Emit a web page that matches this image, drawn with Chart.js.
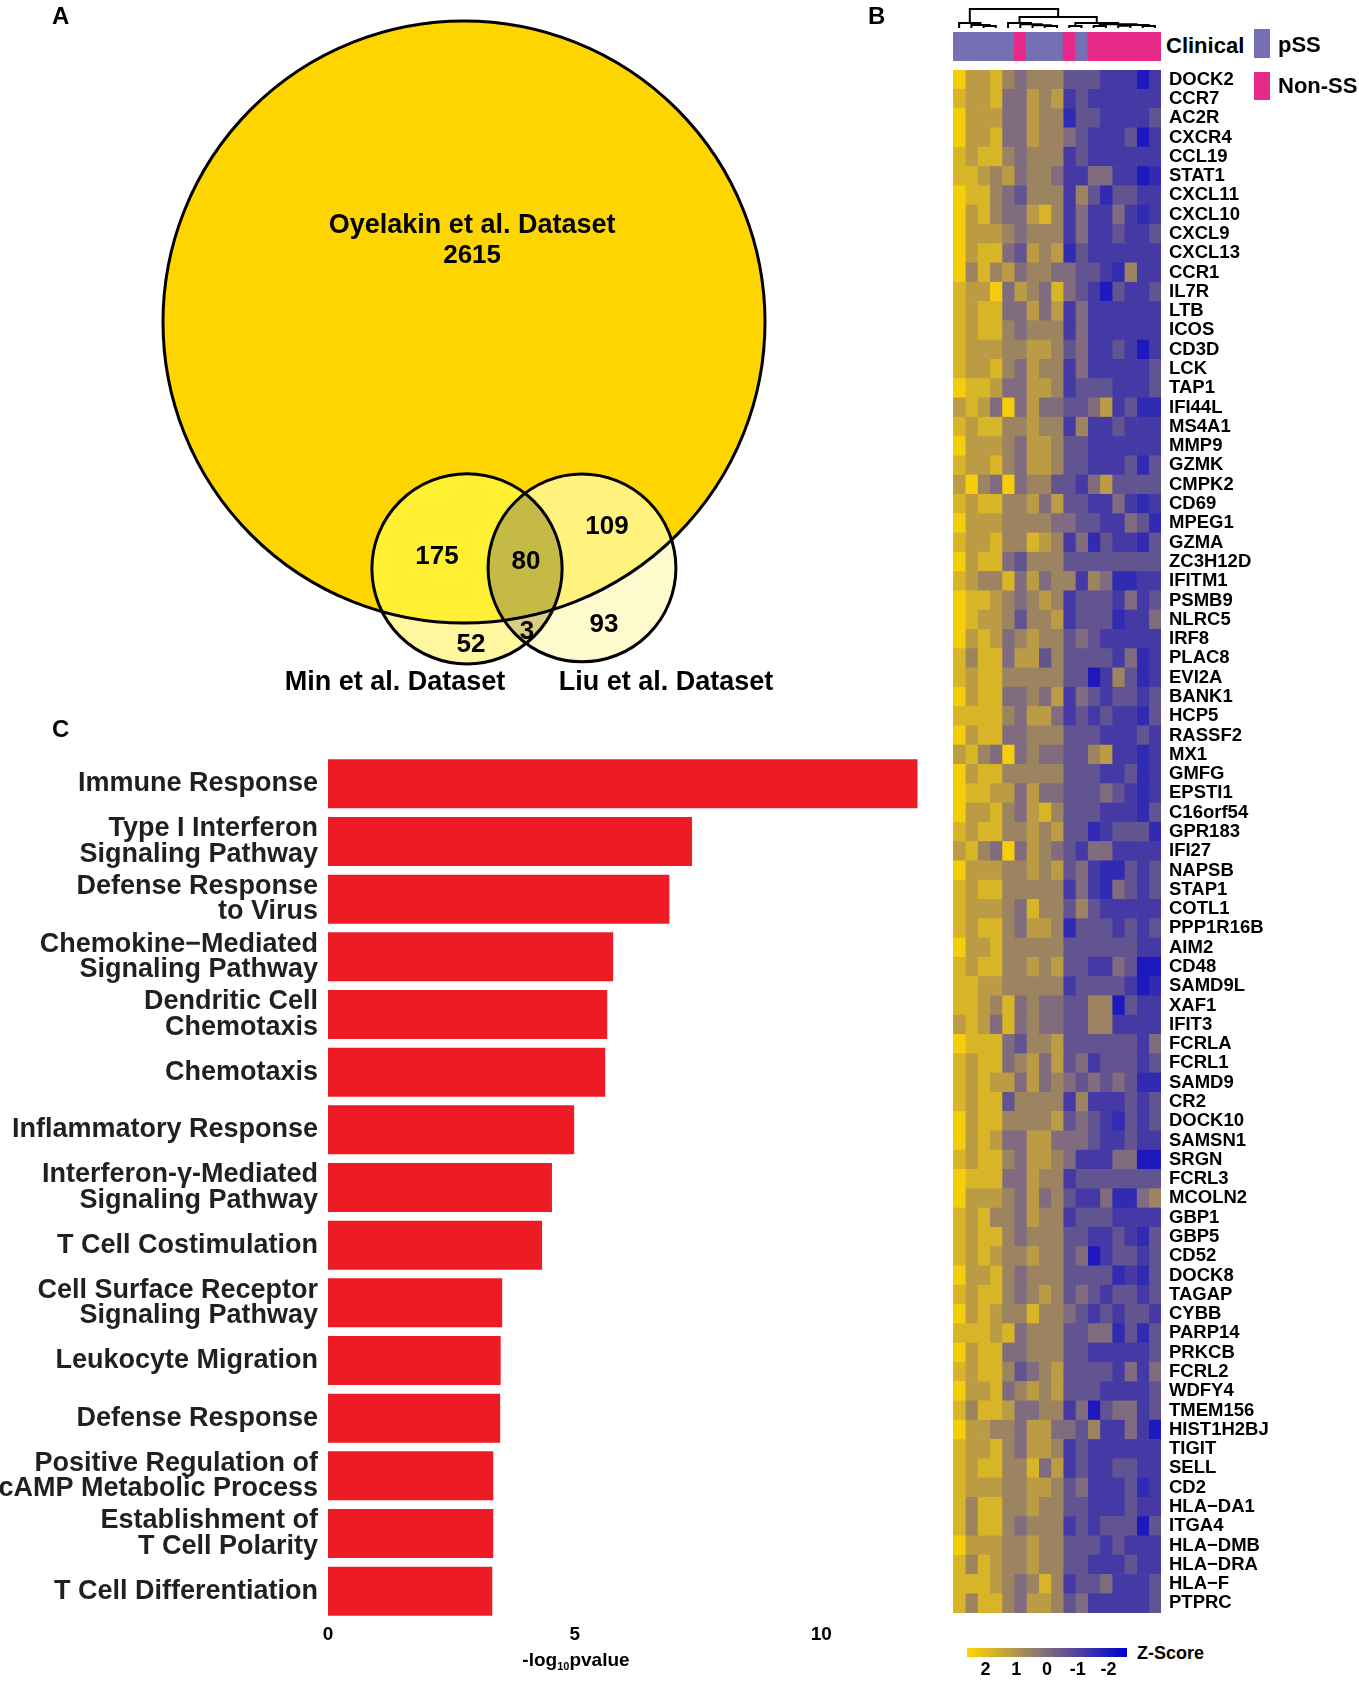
<!DOCTYPE html>
<html lang="en">
<head>
  <meta charset="UTF-8" />
  <title>Venn overlap, GO enrichment and heatmap</title>
  <script src="https://cdn.jsdelivr.net/npm/chart.js"></script>
  <style>
    body { margin: 0; width: 1359px; height: 1681px; position: relative; background: #fff;
           font-family: "Liberation Sans", Arial, sans-serif; font-weight: bold; color: #000; }
    canvas { position: absolute; }
    .lbl { position: absolute; white-space: nowrap; line-height: 1; z-index: 2; }
    .key { position: absolute; z-index: 2; }
    .lbl sub { font-size: 11px; vertical-align: -4px; line-height: 0; }
  </style>
</head>

<body>
  <canvas id="venn" width="900" height="710" style="left:0;top:0"></canvas>
  <canvas id="goBars" width="920" height="946" style="left:0;top:735px"></canvas>
  <canvas id="dendro" width="208" height="32" style="left:953px;top:0"></canvas>
  <canvas id="clinical" width="208" height="29" style="left:953px;top:32px"></canvas>
  <canvas id="heat" width="398" height="1543" style="left:953px;top:70px"></canvas>
  <canvas id="zkey" width="160" height="33" style="left:967px;top:1648px"></canvas>

  <div class="lbl" style="left:52px;top:4px;font-size:24px">A</div>
  <div class="lbl" style="left:868px;top:4px;font-size:24px">B</div>
  <div class="lbl" style="left:52px;top:717px;font-size:24px">C</div>
  <div class="lbl" style="left:1166px;top:35px;font-size:22px">Clinical</div>
  <div class="key" style="left:1254px;top:29px;width:16px;height:29px;background:#7570B3"></div>
  <div class="lbl" style="left:1278px;top:34px;font-size:22px">pSS</div>
  <div class="key" style="left:1254px;top:72px;width:16px;height:28px;background:#E7298A"></div>
  <div class="lbl" style="left:1278px;top:75px;font-size:22px">Non-SS</div>
  <div class="lbl" style="left:1137px;top:1644px;font-size:18px">Z-Score</div>
  <div class="lbl" style="left:576px;top:1650px;font-size:19px;transform:translateX(-50%)">-log<sub>10</sub>pvalue</div>

  <script>
    const FONT = '"Liberation Sans", Arial, sans-serif';
    Chart.defaults.font.family = FONT;
    Chart.defaults.font.weight = "bold";
    Chart.defaults.color = "#000";

    /* ---------- panel A: Venn ---------- */
    // circles in units of the big circle radius
    const vennTitles = ["Oyelakin et al. Dataset", "Min et al. Dataset", "Liu et al. Dataset"];
    const vennX = [0, 0.01, 0.392];
    const vennY = [0, -0.82, -0.817];
    const vennR = [1, 0.316, 0.312];
    const titleX = [0.027, -0.229, 0.671];
    const titleY = [0.322, -1.199, -1.199];
    const regionCounts = [2615, 175, 80, 109, 52, 3, 93];
    const countX = [0.027, -0.09, 0.206, 0.475, 0.023, 0.209, 0.465];
    const countY = [0.219, -0.781, -0.797, -0.681, -1.073, -1.03, -1.007];

    /* ---------- panel C: GO terms ---------- */
    const goTerms = [
      ["Immune Response"],
      ["Type I Interferon", "Signaling Pathway"],
      ["Defense Response", "to Virus"],
      ["Chemokine\u2212Mediated", "Signaling Pathway"],
      ["Dendritic Cell", "Chemotaxis"],
      ["Chemotaxis"],
      ["Inflammatory Response"],
      ["Interferon-\u03b3-Mediated", "Signaling Pathway"],
      ["T Cell Costimulation"],
      ["Cell Surface Receptor", "Signaling Pathway"],
      ["Leukocyte Migration"],
      ["Defense Response"],
      ["Positive Regulation of", "cAMP Metabolic Process"],
      ["Establishment of", "T Cell Polarity"],
      ["T Cell Differentiation"],
    ];
    const goLog10P = [11.95, 7.38, 6.92, 5.78, 5.66, 5.62, 4.99, 4.54, 4.34, 3.53, 3.50, 3.49, 3.35, 3.35, 3.33];
    const goTicks = [0, 5, 10];

    /* ---------- panel B: heatmap ---------- */
    const genes = ["DOCK2", "CCR7", "AC2R", "CXCR4", "CCL19", "STAT1", "CXCL11", "CXCL10", "CXCL9", "CXCL13",
      "CCR1", "IL7R", "LTB", "ICOS", "CD3D", "LCK", "TAP1", "IFI44L", "MS4A1", "MMP9",
      "GZMK", "CMPK2", "CD69", "MPEG1", "GZMA", "ZC3H12D", "IFITM1", "PSMB9", "NLRC5", "IRF8",
      "PLAC8", "EVI2A", "BANK1", "HCP5", "RASSF2", "MX1", "GMFG", "EPSTI1", "C16orf54", "GPR183",
      "IFI27", "NAPSB", "STAP1", "COTL1", "PPP1R16B", "AIM2", "CD48", "SAMD9L", "XAF1", "IFIT3",
      "FCRLA", "FCRL1", "SAMD9", "CR2", "DOCK10", "SAMSN1", "SRGN", "FCRL3", "MCOLN2", "GBP1",
      "GBP5", "CD52", "DOCK8", "TAGAP", "CYBB", "PARP14", "PRKCB", "FCRL2", "WDFY4", "TMEM156",
      "HIST1H2BJ", "TIGIT", "SELL", "CD2", "HLA\u2212DA1", "ITGA4", "HLA\u2212DMB", "HLA\u2212DRA", "HLA\u2212F", "PTPRC"];
    const sampleGroup = ["pSS", "pSS", "pSS", "pSS", "pSS", "Non-SS", "pSS", "pSS", "pSS", "Non-SS",
      "pSS", "Non-SS", "Non-SS", "Non-SS", "Non-SS", "Non-SS", "Non-SS"];
    // one string per gene, one digit per sample: level (1 = most yellow, 9 = most blue)
    const heatRows = [
      "13324544466677797", "23325534376777777", "13335534486677776", "13325534456777697", "23224544476777777",
      "22343544577557798", "12245644474686677", "13245532475775787", "13334544475776776", "13225634386777777",
      "14243544556678477", "23315345256796776", "23225535375777777", "23224544475777777", "23334433465776797",
      "23324534475777776", "12235533476667776", "32351535566537688", "23224434474776777", "13334533466777777",
      "23324533466777686", "31451544667536666", "23224435366775787", "13334444556677568", "23324423475867786",
      "13225644466666666", "23442535447458877", "12234543476667576", "12334644376668775", "13235434465677777",
      "24225336466667587", "23224444466974687", "13225545375676676", "22224533576767786", "13225544466677767",
      "32451545566437787", "13224444466677687", "12233535566656787", "13324532466677786", "23224434366876668",
      "32451534567557777", "13334434365788676", "23224444475785676", "23334524464677777", "23224533486667676",
      "13324444466666677", "23224434366775699", "22334444476666798", "22342545566449677", "32352545566447777",
      "12225644366666675", "23225435365766676", "23233535456565688", "23226444474777676", "13224444365678676",
      "13235533555677677", "23224533457775599", "12225534476666666", "13334535467758854", "23244534476667777",
      "23224544466776786", "23234434465976676", "13324544466668786", "23224543465676676", "13234424456767667",
      "22232544466558686", "13225544466777776", "23224654366667575", "13325434366677776", "24223554475965576",
      "13344533556477579", "23324533476777777", "23224425376776677", "23334433465777687", "24224434466777677",
      "24224544476766696", "13334434466676777", "24234434466777677", "22234542476657776", "24224533465777776",
    ];
    const zLevels = [null, 2.4, 1.8, 1.2, 0.6, 0, -0.6, -1.2, -1.6, -2.0];
    const zTicks = [2, 1, 0, -1, -2];
    // column dendrogram: [left node, right node, height]; leaves are 0..16, merges numbered from 17
    const dendroMerges = [
      [2, 3, 0.10], [1, 17, 0.16], [0, 18, 0.26],
      [7, 8, 0.10], [6, 20, 0.14], [5, 21, 0.20], [4, 22, 0.26],
      [9, 10, 0.10], [11, 12, 0.10], [13, 14, 0.12], [15, 16, 0.10],
      [26, 27, 0.16], [25, 28, 0.20], [24, 29, 0.26],
      [23, 30, 0.58], [19, 31, 1.0],
    ];

    /* colour scale for z-scores */
    const zStops = [2.6, 0, -2.6];
    const zColors = [[255, 213, 0], [128, 108, 126], [0, 0, 210]];
    const groupColors = { "pSS": "#7570B3", "Non-SS": "#E7298A" };

    function zColor(z) {
      const i = z >= 0 ? 0 : 1;
      const t = (zStops[i] - z) / (zStops[i] - zStops[i + 1]);
      const a = zColors[i], b = zColors[i + 1];
      return "rgb(" + a.map((v, k) => Math.round(v + (b[k] - v) * t)).join(",") + ")";
    }

    const noChrome = {
      responsive: false,
      animation: false,
      events: [],
      layout: { padding: 0, autoPadding: false },
      plugins: { legend: { display: false }, tooltip: { enabled: false } },
    };

    // drop the half-label padding category axes ask for, so the plot fills the canvas
    function noLabelPadding(s) { s.paddingTop = 0; s.paddingBottom = 0; }

    /* ---- Venn ---- */
    const vennXRange = [-1.5415, 1.4485];
    const vennYRange = [-1.289, 1.0698];
    const vennCanvas = document.getElementById("venn");
    const pxPerUnit = vennCanvas.width / (vennXRange[1] - vennXRange[0]);

    const vennFill = {
      id: "vennFill",
      beforeDatasetsDraw(chart) {
        const { ctx, scales: { x, y } } = chart;
        const circle = (i) => {
          const px = x.getPixelForValue(vennX[i]);
          const py = y.getPixelForValue(vennY[i]);
          const pr = x.getPixelForValue(vennX[i] + vennR[i]) - px;
          ctx.beginPath();
          ctx.arc(px, py, pr, 0, 2 * Math.PI);
        };
        const region = (inside, colour) => {
          ctx.save();
          inside.forEach((i) => { circle(i); ctx.clip(); });
          ctx.fillStyle = colour;
          ctx.fillRect(0, 0, chart.width, chart.height);
          ctx.restore();
        };
        region([0], "#FFD500");
        region([1], "#FFF6A0");
        region([0, 1], "#FFF033");
        region([2], "#FFFACD");
        region([0, 2], "#FFF37D");
        region([1, 2], "#D9CD82");
        region([0, 1, 2], "#C6BA46");
      },
    };
    const vennText = {
      id: "vennText",
      afterDatasetsDraw(chart) {
        const { ctx, scales: { x, y } } = chart;
        ctx.save();
        ctx.fillStyle = "#000";
        ctx.textAlign = "center";
        ctx.textBaseline = "middle";
        ctx.font = "bold 27px " + FONT;
        vennTitles.forEach((t, i) => ctx.fillText(t, x.getPixelForValue(titleX[i]), y.getPixelForValue(titleY[i])));
        ctx.font = "bold 26px " + FONT;
        regionCounts.forEach((n, i) => ctx.fillText(String(n), x.getPixelForValue(countX[i]), y.getPixelForValue(countY[i])));
        ctx.restore();
      },
    };
    new Chart(vennCanvas, {
      type: "bubble",
      data: {
        datasets: vennTitles.map((t, i) => ({
          label: t,
          data: [{ x: vennX[i], y: vennY[i], r: vennR[i] * pxPerUnit }],
          backgroundColor: "rgba(0,0,0,0)",
          borderColor: "#000",
          borderWidth: 3,
        })),
      },
      options: Object.assign({}, noChrome, {
        clip: false,
        scales: {
          x: { display: false, min: vennXRange[0], max: vennXRange[1] },
          y: { display: false, min: vennYRange[0], max: vennYRange[1] },
        },
      }),
      plugins: [vennFill, vennText],
    });

    /* ---- GO bar chart ---- */
    new Chart(document.getElementById("goBars"), {
      type: "bar",
      data: {
        labels: goTerms,
        datasets: [{
          data: goLog10P,
          backgroundColor: "#ED1C24",
          barPercentage: 0.85,
          categoryPercentage: 1,
        }],
      },
      options: Object.assign({}, noChrome, {
        indexAxis: "y",
        layout: { padding: { top: 20, right: 0, bottom: 0, left: 0 }, autoPadding: false },
        scales: {
          x: {
            min: 0, max: 12,
            border: { display: false },
            grid: { display: false, drawTicks: false },
            afterBuildTicks(s) { s.ticks = goTicks.map((v) => ({ value: v })); },
            ticks: { padding: 3, color: "#000", font: { size: 19, weight: "bold" } },
            afterFit(s) { s.height = 61; },
          },
          y: {
            border: { display: false },
            grid: { display: false, drawTicks: false },
            ticks: { autoSkip: false, padding: 10, color: "#231F20",
                     font: { size: 27, weight: "bold", lineHeight: 0.93 } },
            afterFit(s) { s.width = 328; noLabelPadding(s); },
          },
        },
      }),
    });

    /* ---- dendrogram ---- */
    const nodeX = sampleGroup.map((g, i) => i);
    const nodeH = sampleGroup.map(() => 0);
    const dendroPts = [];
    dendroMerges.forEach(([a, b, h]) => {
      dendroPts.push({ x: nodeX[a], y: nodeH[a] }, { x: nodeX[a], y: h },
                     { x: nodeX[b], y: h }, { x: nodeX[b], y: nodeH[b] }, { x: null, y: null });
      nodeX.push((nodeX[a] + nodeX[b]) / 2);
      nodeH.push(h);
    });
    new Chart(document.getElementById("dendro"), {
      type: "scatter",
      data: {
        datasets: [{
          data: dendroPts,
          showLine: true,
          spanGaps: false,
          borderColor: "#000",
          borderWidth: 2,
          pointRadius: 0,
        }],
      },
      options: Object.assign({}, noChrome, {
        clip: false,
        scales: {
          x: { display: false, min: -0.5, max: sampleGroup.length - 0.5 },
          y: { display: false, min: -0.2105, max: 1.474 },
        },
      }),
    });

    /* ---- clinical annotation bar ---- */
    new Chart(document.getElementById("clinical"), {
      type: "bar",
      data: {
        labels: sampleGroup.map((g, i) => "S" + (i + 1)),
        datasets: [{
          data: sampleGroup.map(() => 1),
          backgroundColor: sampleGroup.map((g) => groupColors[g]),
          barPercentage: 1,
          categoryPercentage: 1,
        }],
      },
      options: Object.assign({}, noChrome, {
        scales: { x: { display: false }, y: { display: false, min: 0, max: 1 } },
      }),
    });

    /* ---- heatmap ---- */
    new Chart(document.getElementById("heat"), {
      type: "bar",
      data: {
        labels: genes,
        datasets: sampleGroup.map((g, s) => ({
          label: "S" + (s + 1),
          data: genes.map(() => 1),
          backgroundColor: genes.map((gene, r) => zColor(zLevels[+heatRows[r][s]])),
          barPercentage: 1,
          categoryPercentage: 1,
          borderWidth: 0,
        })),
      },
      options: Object.assign({}, noChrome, {
        indexAxis: "y",
        scales: {
          x: { display: false, stacked: true, min: 0, max: sampleGroup.length },
          y: {
            stacked: true,
            position: "right",
            border: { display: false },
            grid: { display: false, drawTicks: false },
            ticks: { autoSkip: false, padding: 8, color: "#000", font: { size: 18.5, weight: "bold", lineHeight: 1 } },
            afterFit(s) { s.width = 190; noLabelPadding(s); },
          },
        },
      }),
    });

    /* ---- z-score colour key ---- */
    new Chart(document.getElementById("zkey"), {
      type: "bar",
      data: {
        labels: ["Z-Score"],
        datasets: [{
          data: [[zStops[2], zStops[0]]],
          barPercentage: 1,
          categoryPercentage: 1,
          backgroundColor: (c) => {
            const { chartArea, ctx, scales } = c.chart;
            if (!chartArea) return null;
            const g = ctx.createLinearGradient(chartArea.left, 0, chartArea.right, 0);
            zStops.forEach((z, i) => {
              const p = (scales.x.getPixelForValue(z) - chartArea.left) / (chartArea.right - chartArea.left);
              g.addColorStop(Math.min(1, Math.max(0, p)), "rgb(" + zColors[i].join(",") + ")");
            });
            return g;
          },
        }],
      },
      options: Object.assign({}, noChrome, {
        indexAxis: "y",
        scales: {
          x: {
            min: zStops[2], max: zStops[0], reverse: true,
            border: { display: false },
            grid: { display: false, drawTicks: false },
            afterBuildTicks(s) { s.ticks = zTicks.map((v) => ({ value: v })); },
            ticks: { padding: 2, color: "#000", font: { size: 18, weight: "bold" } },
            afterFit(s) { s.height = 24; },
          },
          y: { display: false },
        },
      }),
    });
  </script>
</body>

</html>
